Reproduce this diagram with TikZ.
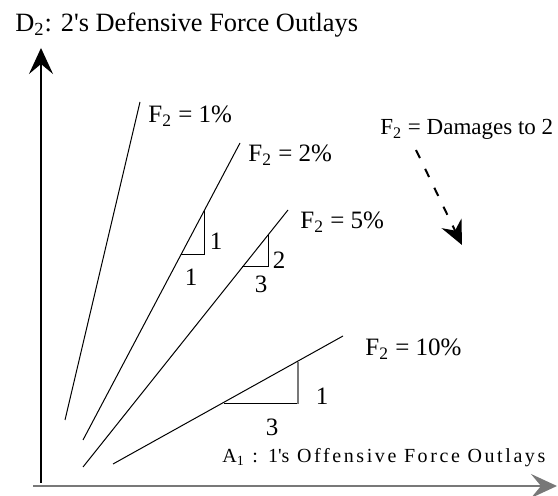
\documentclass[tikz,border=0pt]{standalone}
\usepackage{fontspec}
\setmainfont{Liberation Serif}
\definecolor{axisgray}{RGB}{120,120,120}
\usetikzlibrary{arrows.meta}

\begin{document}
\begin{tikzpicture}[x=0.5pt,y=-0.5pt,
  fline/.style={line width=0.5pt},
  slopetri/.style={line width=0.5pt},
  axisline/.style={line width=0.8pt,-{Stealth[length=13pt,width=12pt,inset=5pt]}},
  flbl/.style={anchor=base west,inner sep=0pt,font=\fontsize{12.5}{15}\selectfont},
  numlbl/.style={inner sep=0pt,font=\fontsize{12.5}{15}\selectfont}
]
  \useasboundingbox (0,0) rectangle (558,496);
  % axes
  \coordinate (ybot) at (41,483);
  \coordinate (ytop) at (41,48);
  \coordinate (xleft) at (33,486);
  \coordinate (xright) at (557,486);
  \draw[axisline] (ybot) -- (ytop);
  \draw[axisline,draw=axisgray,line width=1pt] (xleft) -- (xright);
  \node[flbl,font=\fontsize{13.2}{15}\selectfont] (ylab) at (15,32)
    {D\textsubscript{2}: 2\textquotesingle s Defensive Force Outlays};
  \node[flbl,font={\fontsize{10}{12}\selectfont\addfontfeature{LetterSpace=13}}] (xlab) at (222,463)
    {A\textsubscript{1} : 1\textquotesingle s Offensive Force Outlays};
  % F_2 lines
  \coordinate (a1) at (65,420);  \coordinate (b1) at (140,102);
  \coordinate (a2) at (83,440);  \coordinate (b2) at (240,143);
  \coordinate (a3) at (83,467);  \coordinate (b3) at (288,210);
  \coordinate (a4) at (113,464); \coordinate (b4) at (343,336);
  \draw[fline] (a1) -- (b1);
  \draw[fline] (a2) -- (b2);
  \draw[fline] (a3) -- (b3);
  \draw[fline] (a4) -- (b4);
  \node[flbl] (f1) at (148,123) {F\textsubscript{2} = 1\%};
  \node[flbl] (f2) at (248,162) {F\textsubscript{2} = 2\%};
  \node[flbl] (f5) at (300,229) {F\textsubscript{2} = 5\%};
  \node[flbl] (f10) at (365,356) {F\textsubscript{2} = 10\%};
  % slope triangles
  \draw[slopetri] (181,255) -| (204,210);
  \draw[slopetri] (242,267) -| (268,235);
  \draw[slopetri] (224,404) -- (298,404);
  \draw[slopetri,draw=axisgray,line width=0.8pt] (298,404) -- (298,362);
  \node[numlbl] (r2) at (216,241) {1};
  \node[numlbl] (r2b) at (191,277) {1};
  \node[numlbl] (r5) at (279,260) {2};
  \node[numlbl] (r5b) at (261,284) {3};
  \node[numlbl] (r10) at (322,396) {1};
  \node[numlbl] (r10b) at (272,427) {3};
  % damages arrow
  \node[flbl,font=\fontsize{11.5}{13}\selectfont] (fdmg) at (380,135) {F\textsubscript{2} = Damages to 2};
  \coordinate (ds) at (416,150);
  \coordinate (de) at (462,245);
  \draw[line width=1pt,dash pattern=on 4.5pt off 6pt,-{Stealth[length=12pt,width=11pt,inset=4pt]}] (ds) -- (de);
\end{tikzpicture}
\end{document}
